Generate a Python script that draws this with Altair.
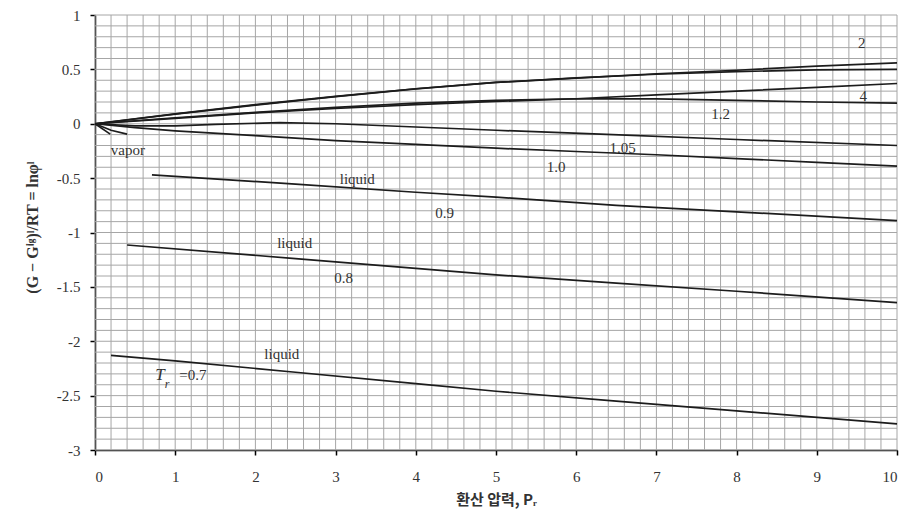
import altair as alt
import pandas as pd

# ---- data ----
tr2_x = [0, 1, 2, 3, 4, 5, 6, 7, 8, 9, 10]
tr2_y = [0, 0.088, 0.172, 0.25, 0.32, 0.38, 0.42, 0.46, 0.492, 0.53, 0.56]
tr15_x = [0, 1, 2, 3, 4, 5, 6, 7, 8, 9, 10]
tr15_y = [0, 0.09, 0.175, 0.252, 0.322, 0.38, 0.422, 0.455, 0.48, 0.495, 0.50]
tr4_x = [0, 1, 2, 3, 4, 5, 6, 7, 8, 9, 10]
tr4_y = [0, 0.05, 0.10, 0.14, 0.175, 0.205, 0.23, 0.265, 0.30, 0.335, 0.37]
tr12_x = [0, 1, 2, 3, 4, 5, 6, 7, 8, 9, 10]
tr12_y = [0, 0.055, 0.105, 0.15, 0.19, 0.215, 0.23, 0.228, 0.215, 0.20, 0.19]
tr105_x = [0, 0.5, 1, 1.5, 2.3, 3, 4, 5, 6.3, 8, 10]
tr105_y = [0, -0.02, -0.02, -0.005, 0.01, 0.0, -0.03, -0.06, -0.095, -0.145, -0.20]
tr10_x = [0, 0.5, 1, 2, 3, 4, 5, 6, 7, 8, 9, 10]
tr10_y = [0, -0.035, -0.065, -0.11, -0.155, -0.19, -0.225, -0.255, -0.285, -0.32, -0.355, -0.39]
tr09_x = [0.71, 2.5, 4, 5, 6.5, 8, 10]
tr09_y = [-0.47, -0.555, -0.63, -0.675, -0.75, -0.81, -0.89]
tr08_x = [0.4, 2.5, 4, 5, 6.5, 8, 10]
tr08_y = [-1.115, -1.24, -1.33, -1.39, -1.465, -1.54, -1.645]
tr07_x = [0.2, 1, 2.5, 4, 5, 6.5, 8, 10]
tr07_y = [-2.13, -2.18, -2.285, -2.39, -2.46, -2.55, -2.64, -2.76]
vap07_x = [0, 0.19]
vap07_y = [0, -0.095]
vap08_x = [0, 0.2, 0.4]
vap08_y = [0, -0.06, -0.095]

series = [
    ("2", tr2_x, tr2_y), ("1.5", tr15_x, tr15_y), ("4", tr4_x, tr4_y),
    ("1.2", tr12_x, tr12_y), ("1.05", tr105_x, tr105_y), ("1.0", tr10_x, tr10_y),
    ("0.9", tr09_x, tr09_y), ("0.8", tr08_x, tr08_y), ("0.7", tr07_x, tr07_y),
    ("vap0.7", vap07_x, vap07_y), ("vap0.8", vap08_x, vap08_y),
]

label_text = ["2", "4", "1.2", "1.05", "1.0", "vapor", "liquid", "0.9", "liquid", "0.8", "liquid", "=0.7"]
label_x = [9.56, 9.58, 7.8, 6.58, 5.75, 0.41, 3.27, 4.36, 2.49, 3.1, 2.33, 1.22]
label_y = [0.745, 0.257, 0.092, -0.22, -0.395, -0.24, -0.51, -0.82, -1.10, -1.42, -2.12, -2.31]

x_major = [0, 1, 2, 3, 4, 5, 6, 7, 8, 9, 10]
y_major = [1, 0.5, 0, -0.5, -1, -1.5, -2, -2.5, -3]
x_grid = [round(i * 0.2, 1) for i in range(51)]
y_grid = [round(-3 + i * 0.1, 1) for i in range(41)]

rows = []
for name, xs_, ys_ in series:
    for xv, yv in zip(xs_, ys_):
        rows.append({"series": name, "x": xv, "y": yv})
df = pd.DataFrame(rows)
labels = pd.DataFrame({"text": label_text, "x": label_x, "y": label_y})

xs = alt.Scale(domain=[0, 10], nice=False, zero=False)
ys = alt.Scale(domain=[-3, 1], nice=False, zero=False)

x_axis = alt.Axis(
    values=x_major, title="환산 압력, Pᵣ", grid=False,
    labelFont="Liberation Serif", labelFontSize=15, labelColor="#333",
    labelPadding=14, titleY=49, titleBaseline="middle",
    titleFont="Noto Sans CJK KR", titleFontSize=15, titleFontWeight="bold", titleColor="#333",
    domainColor="#000", domainWidth=1.5, tickColor="#000", tickWidth=1.5, tickSize=5)
y_axis = alt.Axis(
    values=y_major, title="(G − Gⁱᵍ)ˡ/RT = lnφˡ", grid=False,
    labelExpr="datum.value < 0 ? '-' + format(-datum.value, '') : format(datum.value, '')",
    labelFont="Liberation Serif", labelFontSize=15, labelColor="#333",
    labelPadding=10,
    titleX=-63, titleY=212, titleAngle=-90, titleBaseline="middle", titleAlign="center",
    titleFont="Liberation Serif", titleFontSize=16, titleFontWeight="bold", titleColor="#333",
    domainColor="#000", domainWidth=1.5, tickColor="#000", tickWidth=1.5, tickSize=5)

X = lambda f: alt.X(f, scale=xs, axis=x_axis)
Y = lambda f: alt.Y(f, scale=ys, axis=y_axis)

gx = alt.Chart(pd.DataFrame({"gx": x_grid})).mark_rule(color="#a6a6a6", strokeWidth=1).encode(
    x=X("gx:Q"))
gy = alt.Chart(pd.DataFrame({"gy": y_grid})).mark_rule(color="#a6a6a6", strokeWidth=1).encode(
    y=Y("gy:Q"))

lines = alt.Chart(df).mark_line(color="#1c1c1c", strokeWidth=1.7).encode(
    x=X("x:Q"), y=Y("y:Q"), detail="series:N", order="x:Q")

txt = alt.Chart(labels).mark_text(font="Liberation Serif", fontSize=15, color="#333").encode(
    x=X("x:Q"), y=Y("y:Q"), text="text:N")

tr_t = alt.Chart(pd.DataFrame({"text": ["T"], "x": [0.81], "y": [-2.31]})).mark_text(
    font="Liberation Serif", fontSize=17, fontStyle="italic", color="#333").encode(
    x=X("x:Q"), y=Y("y:Q"), text="text:N")
tr_r = alt.Chart(pd.DataFrame({"text": ["r"], "x": [0.9], "y": [-2.39]})).mark_text(
    font="Liberation Serif", fontSize=12, fontStyle="italic", color="#333").encode(
    x=X("x:Q"), y=Y("y:Q"), text="text:N")

chart = alt.layer(gx, gy, lines, txt, tr_t, tr_r).properties(
    width=802, height=435,
    autosize=alt.AutoSizeParams(type="none"),
    padding={"left": 87, "top": 7, "right": 16, "bottom": 60},
).configure_view(stroke=None).configure_axis(
    labelFont="Liberation Serif", labelFontSize=15, labelColor="#333",
    domainColor="#000", domainWidth=1.5, tickColor="#000", tickWidth=1.5,
)

chart.save("out.html", embed_options={"renderer": "svg", "actions": False})
